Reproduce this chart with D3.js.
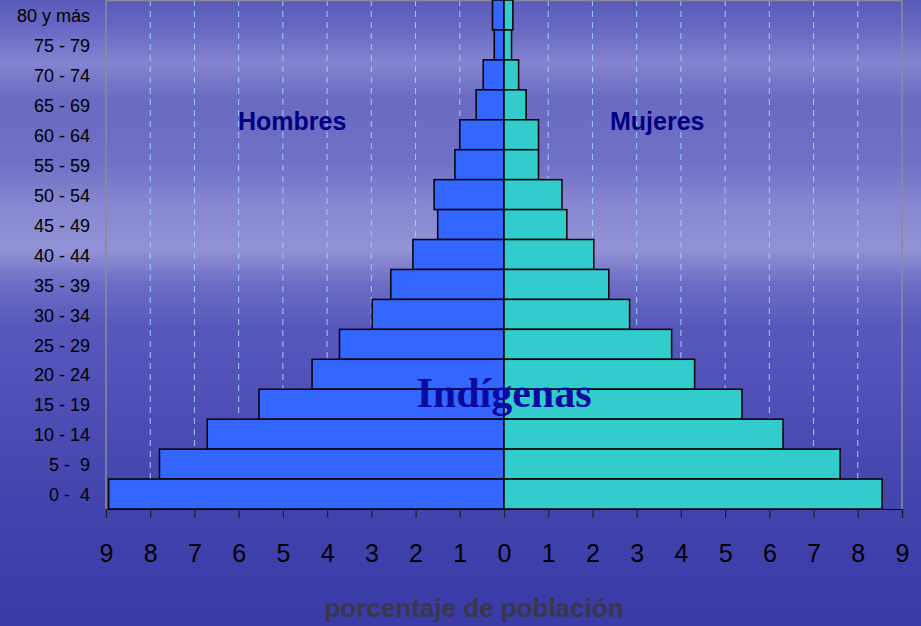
<!DOCTYPE html>
<html>
<head>
<meta charset="utf-8">
<script src="https://cdn.jsdelivr.net/npm/d3@7"></script>
<style>
  body { margin: 0; overflow: hidden; }
  svg { display: block; font-family: Arial, "Liberation Sans", sans-serif; }
</style>
</head>
<body>
<svg width="921" height="626"></svg>
<script>
// Age groups, from the oldest (top) to the youngest (bottom).
const ageGroups = ["80 y más", "75 - 79", "70 - 74", "65 - 69", "60 - 64", "55 - 59",
  "50 - 54", "45 - 49", "40 - 44", "35 - 39", "30 - 34", "25 - 29", "20 - 24",
  "15 - 19", "10 - 14", "5 -  9", "0 -  4"];

// Percentage of population, same order as ageGroups.
const hombres = [0.26, 0.22, 0.47, 0.63, 1.0, 1.11, 1.58, 1.5, 2.06, 2.56, 2.98,
  3.72, 4.34, 5.54, 6.71, 7.79, 8.94];
const mujeres = [0.2, 0.17, 0.33, 0.5, 0.78, 0.78, 1.31, 1.42, 2.03, 2.37, 2.84,
  3.79, 4.31, 5.38, 6.31, 7.6, 8.55];

const ticks = d3.range(-9, 10);

const svg = d3.select("svg");
const defs = svg.append("defs");

// Sky background.
const bg = defs.append("linearGradient").attr("id", "sky")
  .attr("x1", 0).attr("y1", 0).attr("x2", 0).attr("y2", 1);
[[0, "#5a5aba"], [0.05, "#6a6ac4"], [0.1, "#8484d0"], [0.16, "#6a6ac2"],
 [0.26, "#7070c6"], [0.33, "#8888d2"], [0.4, "#9292d6"], [0.45, "#6e6ec6"],
 [0.52, "#5858bc"], [0.65, "#4e4eb6"], [0.8, "#4444ae"], [1, "#3a3aa8"]]
  .forEach(([o, c]) => bg.append("stop").attr("offset", o).attr("stop-color", c));

svg.append("rect").attr("width", 921).attr("height", 626).attr("fill", "url(#sky)");

const x = d3.scaleLinear().domain([-9, 9]).range([106, 902]);
const y = d3.scaleBand().domain(ageGroups).range([0, 509]).padding(0);

// Dashed gridlines.
svg.append("g")
  .selectAll("line")
  .data(ticks.filter((t) => t !== 0 && Math.abs(t) !== 9))
  .join("line")
  .attr("x1", (t) => x(t)).attr("x2", (t) => x(t))
  .attr("y1", 0).attr("y2", 509)
  .attr("stroke", "#9cccff")
  .attr("stroke-width", 1)
  .attr("stroke-dasharray", "6,5");

// Plot frame.
svg.append("path")
  .attr("d", `M${x(-9)},509V0.5H${x(9)}V509`)
  .attr("fill", "none")
  .attr("stroke", "#8a8a9a")
  .attr("stroke-width", 1.5);

// Bars.
const rows = ageGroups.map((g, i) => ({ g, h: hombres[i], m: mujeres[i] }));

svg.append("g")
  .selectAll("rect")
  .data(rows)
  .join("rect")
  .attr("x", (d) => x(-d.h))
  .attr("y", (d) => y(d.g))
  .attr("width", (d) => x(0) - x(-d.h))
  .attr("height", y.bandwidth())
  .attr("fill", "#3366ff")
  .attr("stroke", "#000")
  .attr("stroke-width", 1.5);

svg.append("g")
  .selectAll("rect")
  .data(rows)
  .join("rect")
  .attr("x", x(0))
  .attr("y", (d) => y(d.g))
  .attr("width", (d) => x(d.m) - x(0))
  .attr("height", y.bandwidth())
  .attr("fill", "#33cccc")
  .attr("stroke", "#000")
  .attr("stroke-width", 1.5);

// X axis.
const xAxis = svg.append("g")
  .attr("transform", "translate(0,509)")
  .call(d3.axisBottom(x).tickValues(ticks).tickFormat((t) => Math.abs(t))
    .tickSize(9).tickPadding(26));
xAxis.select(".domain").attr("stroke", "#000").attr("stroke-width", 1.2);
xAxis.selectAll(".tick line").attr("stroke", "#222").attr("stroke-width", 1.2);
xAxis.selectAll("text")
  .attr("font-size", 25)
  .attr("font-family", "Arial, 'Liberation Sans', sans-serif")
  .attr("fill", "#000");

// Y axis labels.
const yAxis = svg.append("g")
  .attr("transform", "translate(106,0)")
  .call(d3.axisLeft(y).tickSize(0).tickPadding(16));
yAxis.select(".domain").remove();
yAxis.selectAll("text")
  .attr("font-size", 18)
  .attr("font-family", "Arial, 'Liberation Sans', sans-serif")
  .attr("fill", "#000")
  .attr("dy", "0.4em")
  .style("white-space", "pre");

// Annotations.
svg.append("text")
  .attr("x", 238).attr("y", 130)
  .attr("font-size", 25).attr("font-weight", "bold")
  .attr("fill", "#000080")
  .text("Hombres");

svg.append("text")
  .attr("x", 610).attr("y", 130)
  .attr("font-size", 25).attr("font-weight", "bold")
  .attr("fill", "#000080")
  .text("Mujeres");

svg.append("text")
  .attr("x", x(0)).attr("y", 407)
  .attr("text-anchor", "middle")
  .attr("font-family", "'Liberation Serif', 'Times New Roman', serif")
  .attr("font-size", 42).attr("font-weight", "bold")
  .attr("fill", "#0a0aa0")
  .text("Indígenas");

svg.append("text")
  .attr("x", 474).attr("y", 617)
  .attr("text-anchor", "middle")
  .attr("font-size", 26).attr("font-weight", "bold")
  .attr("fill", "#383848")
  .text("porcentaje de población");
</script>
</body>
</html>
